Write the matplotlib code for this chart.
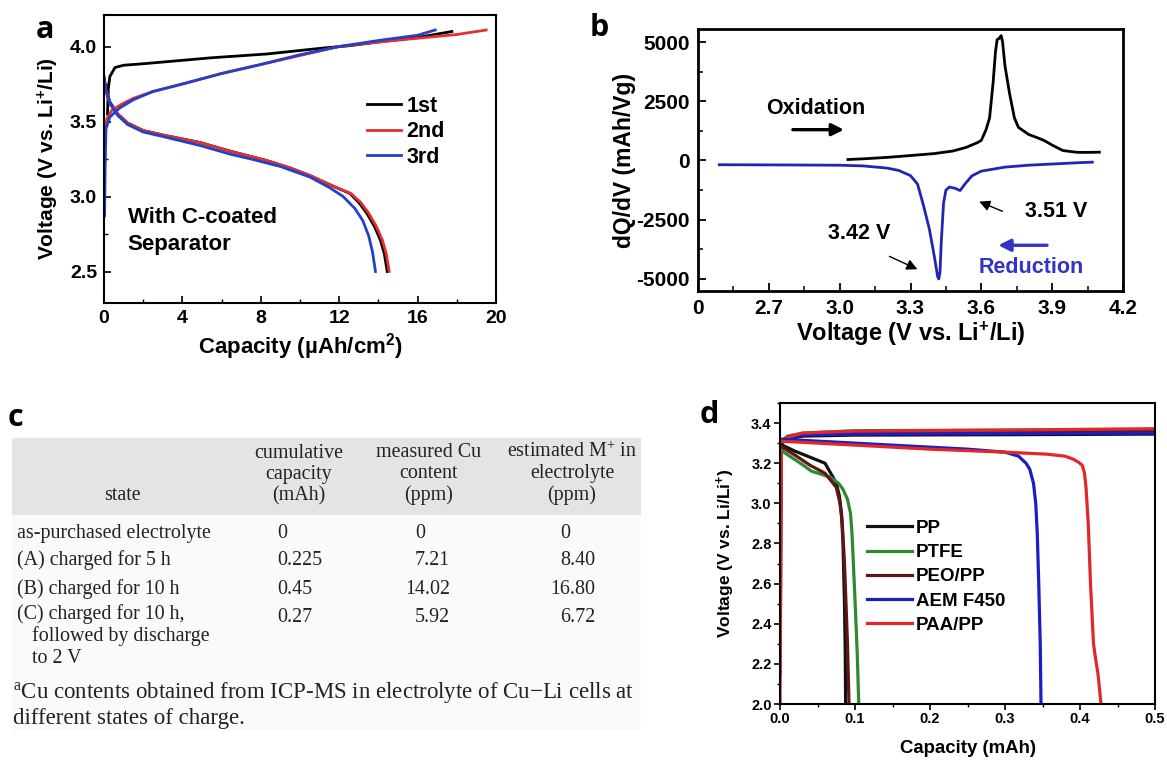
import matplotlib
matplotlib.use('Agg')
import matplotlib.pyplot as plt
from matplotlib.ticker import MultipleLocator
from matplotlib.patches import Rectangle

plt.rcParams['font.family'] = ['Liberation Sans', 'DejaVu Sans']
plt.rcParams['mathtext.default'] = 'regular'

# ---------------- Panel a data ----------------
a_chg1_x = [0.18, 0.22, 0.30, 0.56, 1.0, 2.0, 5.5, 8.3, 11.2, 12.5, 14.0, 16.0, 17.75]
a_chg1_v = [3.55, 3.72, 3.80, 3.86, 3.875, 3.885, 3.925, 3.95, 3.99, 4.005, 4.03, 4.06, 4.10]
a_chg2_x = [0.02, 0.05, 0.15, 0.4, 0.9, 1.5, 2.5, 4.0, 6.0, 8.0, 10.0, 12.0, 14.0, 16.0, 18.0, 19.5]
a_chg2_v = [3.30, 3.45, 3.52, 3.575, 3.615, 3.655, 3.70, 3.75, 3.82, 3.88, 3.94, 4.00, 4.03, 4.055, 4.08, 4.11]
a_chg3_x = [0.03, 0.06, 0.10, 0.3, 0.8, 1.5, 2.5, 4.0, 6.0, 8.0, 10.0, 12.0, 14.0, 16.0, 16.9]
a_chg3_v = [2.87, 3.20, 3.45, 3.53, 3.59, 3.645, 3.70, 3.75, 3.82, 3.88, 3.945, 4.00, 4.04, 4.075, 4.11]
a_dis1_x = [0.0, 0.1, 0.3, 0.7, 1.2, 2.0, 3.0, 4.9, 6.5, 8.3, 9.5, 10.5, 11.5, 12.55, 13.0, 13.4, 13.8, 14.1, 14.3, 14.45]
a_dis1_v = [3.80, 3.72, 3.63, 3.55, 3.49, 3.44, 3.41, 3.36, 3.30, 3.24, 3.19, 3.14, 3.08, 3.02, 2.96, 2.89, 2.80, 2.71, 2.62, 2.50]
a_dis2_x = [0.0, 0.1, 0.3, 0.7, 1.2, 2.0, 3.0, 4.9, 6.5, 8.3, 9.5, 10.5, 11.5, 12.6, 13.1, 13.5, 13.9, 14.2, 14.4, 14.55]
a_dis2_v = [3.78, 3.71, 3.62, 3.55, 3.49, 3.44, 3.41, 3.36, 3.30, 3.24, 3.19, 3.14, 3.08, 3.02, 2.96, 2.89, 2.80, 2.71, 2.62, 2.50]
a_dis3_x = [0.0, 0.1, 0.3, 0.7, 1.2, 2.0, 3.0, 4.9, 6.5, 7.5, 9.0, 10.5, 11.5, 12.2, 12.8, 13.2, 13.5, 13.7, 13.85]
a_dis3_v = [3.78, 3.70, 3.62, 3.54, 3.48, 3.43, 3.40, 3.34, 3.28, 3.25, 3.20, 3.13, 3.06, 3.00, 2.92, 2.84, 2.74, 2.63, 2.50]
a_labels = ["1st", "2nd", "3rd"]
a_xticks = [0, 4, 8, 12, 16, 20]
a_yticks = [2.5, 3.0, 3.5, 4.0]
a_yticklabels = ["2.5", "3.0", "3.5", "4.0"]

# ---------------- Panel b data ----------------
b_red_v = [2.49, 2.8, 3.0, 3.1, 3.2, 3.25, 3.3, 3.33, 3.355, 3.38, 3.40, 3.415, 3.42, 3.425, 3.43, 3.44,
           3.45, 3.465, 3.49, 3.51, 3.53, 3.56, 3.6, 3.7, 3.8, 3.9, 4.0, 4.07]
b_red_dq = [-180, -190, -200, -230, -320, -420, -640, -1000, -1900, -2900, -4000, -4900, -5000, -4700, -3500, -1800,
            -1250, -1120, -1180, -1270, -1000, -650, -450, -280, -200, -150, -100, -70]
b_ox_v = [3.035, 3.1, 3.2, 3.29, 3.4, 3.48, 3.535, 3.585, 3.6, 3.62, 3.635, 3.65, 3.66, 3.667, 3.675, 3.684,
          3.69, 3.70, 3.72, 3.74, 3.757, 3.8, 3.84, 3.866, 3.9, 3.945, 4.0, 4.03, 4.1]
b_ox_dq = [40, 70, 130, 200, 290, 400, 550, 760, 850, 1300, 1800, 3300, 4600, 5100, 5150, 5270,
           5000, 4000, 2800, 1800, 1400, 1100, 950, 843, 650, 420, 350, 340, 350]
b_xticks = [2.4, 2.7, 3.0, 3.3, 3.6, 3.9, 4.2]
b_xticklabels = ["0", "2.7", "3.0", "3.3", "3.6", "3.9", "4.2"]
b_yticks = [-5000, -2500, 0, 2500, 5000]
b_yticklabels = ["-5000", "-2500", "0", "2500", "5000"]

# ---------------- Panel c data ----------------
c_headers = ["state", "cumulative\ncapacity\n(mAh)", "measured Cu\ncontent\n(ppm)", "estimated M$^{+}$ in\nelectrolyte\n(ppm)"]
c_states = ["as-purchased electrolyte", "(A) charged for 5 h", "(B) charged for 10 h",
            "(C) charged for 10 h,\n   followed by discharge\n   to 2 V"]
c_capacity = ["0", "0.225", "0.45", "0.27"]
c_cu = ["0", "7.21", "14.02", "5.92"]
c_mplus = ["0", "8.40", "16.80", "6.72"]
c_footnote = "$^{a}$Cu contents obtained from ICP-MS in electrolyte of Cu\u2212Li cells at\ndifferent states of charge."

# ---------------- Panel d data ----------------
d_names = ["PP", "PTFE", "PEO/PP", "AEM F450", "PAA/PP"]
d_colors = ["#111111", "#2f8a2f", "#5e1616", "#1c1cc8", "#e02828"]
d_dis_x = [
    [0.003, 0.02, 0.04, 0.06, 0.0707, 0.075, 0.079, 0.082, 0.084, 0.086, 0.087, 0.0875],
    [0.003, 0.015, 0.031, 0.042, 0.055, 0.067, 0.078, 0.084, 0.09, 0.094, 0.096, 0.1, 0.103, 0.105],
    [0.003, 0.02, 0.04, 0.06, 0.075, 0.08, 0.083, 0.086, 0.088, 0.09, 0.091, 0.092],
    [0.0, 0.05, 0.1, 0.15, 0.2, 0.25, 0.30, 0.318, 0.328, 0.333, 0.338, 0.341, 0.343, 0.345, 0.347, 0.348],
    [0.0, 0.05, 0.1, 0.2, 0.3, 0.356, 0.38, 0.391, 0.398, 0.403, 0.406, 0.408, 0.411, 0.414, 0.418, 0.421, 0.424, 0.428],
]
d_dis_v = [
    [3.29, 3.26, 3.23, 3.20, 3.13, 3.10, 3.04, 2.95, 2.80, 2.50, 2.25, 2.0],
    [3.26, 3.23, 3.19, 3.16, 3.145, 3.13, 3.10, 3.07, 3.02, 2.95, 2.85, 2.52, 2.25, 2.0],
    [3.28, 3.24, 3.19, 3.15, 3.08, 3.0, 2.9, 2.7, 2.5, 2.3, 2.15, 2.0],
    [3.32, 3.31, 3.30, 3.29, 3.28, 3.27, 3.255, 3.235, 3.20, 3.17, 3.10, 3.0, 2.85, 2.6, 2.3, 2.0],
    [3.31, 3.30, 3.29, 3.27, 3.255, 3.245, 3.235, 3.22, 3.205, 3.19, 3.15, 3.08, 2.9, 2.6, 2.3, 2.22, 2.15, 2.0],
]
d_chg_x = [0.0, 0.002, 0.01, 0.03, 0.1, 0.3, 0.5]
d_chg_v = [
    [3.25, 3.30, 3.32, 3.335, 3.34, 3.342, 3.345],
    [3.22, 3.31, 3.335, 3.35, 3.362, 3.365, 3.365],
    [3.24, 3.30, 3.33, 3.345, 3.35, 3.355, 3.36],
    [2.15, 3.30, 3.325, 3.34, 3.345, 3.348, 3.35],
    [2.00, 3.30, 3.33, 3.35, 3.36, 3.365, 3.372],
]
d_xticks = [0.0, 0.1, 0.2, 0.3, 0.4, 0.5]
d_xticklabels = ["0.0", "0.1", "0.2", "0.3", "0.4", "0.5"]
d_yticks = [2.0, 2.2, 2.4, 2.6, 2.8, 3.0, 3.2, 3.4]
d_yticklabels = ["2.0", "2.2", "2.4", "2.6", "2.8", "3.0", "3.2", "3.4"]

# ================= Figure =================
W, H = 1167, 760
fig = plt.figure(figsize=(W / 100, H / 100), dpi=100)


def ax_px(l, t, r, b):
    return fig.add_axes([l / W, 1 - b / H, (r - l) / W, (b - t) / H])


def bold_ticks(ax):
    for t in ax.get_xticklabels() + ax.get_yticklabels():
        t.set_fontweight('bold')


# ---------- Panel a ----------
axa = ax_px(104, 15, 496, 303)
lw = 2.0
axa.plot(a_chg1_x, a_chg1_v, color='black', lw=lw)
axa.plot(a_dis1_x, a_dis1_v, color='black', lw=lw, label=a_labels[0])
axa.plot(a_chg2_x, a_chg2_v, color='#e43030', lw=lw)
axa.plot(a_dis2_x, a_dis2_v, color='#e43030', lw=lw, label=a_labels[1])
axa.plot(a_chg3_x, a_chg3_v, color='#2340c8', lw=lw)
axa.plot(a_dis3_x, a_dis3_v, color='#2340c8', lw=lw, label=a_labels[2])
axa.set_xlim(0, 20)
axa.set_ylim(2.29, 4.21)
axa.set_xticks(a_xticks)
axa.set_xticklabels([str(v) for v in a_xticks])
axa.set_yticks(a_yticks)
axa.set_yticklabels(a_yticklabels)
axa.xaxis.set_minor_locator(MultipleLocator(2))
axa.yaxis.set_minor_locator(MultipleLocator(0.25))
axa.tick_params(which='both', direction='in', top=False, right=False, labelsize=14, pad=5)
axa.tick_params(which='major', length=5, width=1.2)
axa.tick_params(which='minor', length=3, width=1.0)
bold_ticks(axa)
for s in axa.spines.values():
    s.set_linewidth(1.5)
axa.set_xlabel("Capacity (\u00b5Ah/cm$^{2}$)", fontsize=16, fontweight='bold', labelpad=3)
axa.set_ylabel("Voltage (V vs. Li$^{+}$/Li)", fontsize=15, fontweight='bold', labelpad=6)
axa.legend(loc='upper left', bbox_to_anchor=(0.65, 0.75), frameon=False,
           prop={'weight': 'bold', 'size': 15.5}, handlelength=1.55, handletextpad=0.25,
           labelspacing=0.21, borderaxespad=0)
axa.text(0.06, 0.335, "With C-coated\nSeparator", transform=axa.transAxes, fontsize=16,
         fontweight='bold', va='top', ha='left', linespacing=1.4)

# ---------- Panel b ----------
axb = ax_px(698, 29, 1123, 291)
axb.plot(b_ox_v, b_ox_dq, color='black', lw=2.0)
axb.plot(b_red_v, b_red_dq, color='#2424b4', lw=2.0)
axb.set_xlim(2.4, 4.2)
axb.set_ylim(-5510, 5550)
axb.set_xticks(b_xticks)
axb.set_xticklabels(b_xticklabels)
axb.set_yticks(b_yticks)
axb.set_yticklabels(b_yticklabels)
axb.xaxis.set_minor_locator(MultipleLocator(0.15))
axb.yaxis.set_minor_locator(MultipleLocator(1250))
axb.tick_params(which='both', direction='in', top=False, right=False, labelsize=15, pad=6)
axb.tick_params(which='major', length=6, width=1.3)
axb.tick_params(which='minor', length=3.5, width=1.1)
bold_ticks(axb)
for s in axb.spines.values():
    s.set_linewidth(2.0)
axb.set_xlabel("Voltage (V vs. Li$^{+}$/Li)", fontsize=17, fontweight='bold', labelpad=1)
axb.set_ylabel("dQ/dV (mAh/Vg)", fontsize=16.5, fontweight='bold', labelpad=0)
afs = 15.5
axb.text(2.90, 2190, "Oxidation", fontsize=afs, fontweight='bold', ha='center', va='center')
axb.annotate("", xy=(3.03, 1300), xytext=(2.79, 1300),
             arrowprops=dict(arrowstyle='-|>', color='black', lw=2.4, mutation_scale=18))
axb.text(3.915, -2150, "3.51 V", fontsize=afs, fontweight='bold', ha='center', va='center')
axb.annotate("", xy=(3.58, -1690), xytext=(3.70, -2190),
             arrowprops=dict(arrowstyle='-|>', color='black', lw=1.0, mutation_scale=16))
axb.text(3.084, -3080, "3.42 V", fontsize=afs, fontweight='bold', ha='center', va='center')
axb.annotate("", xy=(3.34, -4640), xytext=(3.20, -4000),
             arrowprops=dict(arrowstyle='-|>', color='black', lw=1.0, mutation_scale=16))
axb.text(3.81, -4510, "Reduction", fontsize=afs, fontweight='bold', ha='center', va='center', color='#3333c4')
axb.annotate("", xy=(3.66, -3580), xytext=(3.89, -3580),
             arrowprops=dict(arrowstyle='-|>', color='#3333c4', lw=2.4, mutation_scale=18))

# ---------- Panel c (table) ----------
axc = fig.add_axes([0, 0, 1, 1], zorder=-1)
axc.set_xlim(0, W)
axc.set_ylim(H, 0)
axc.axis('off')
axc.add_patch(Rectangle((12, 515), 629, 215, facecolor='#fafafa', edgecolor='none'))
axc.add_patch(Rectangle((12, 438), 629, 77, facecolor='#e4e4e4', edgecolor='none'))
serif = ['Liberation Serif', 'DejaVu Serif']
tc = '#222222'
hfs = 14.4
head_x = [122, 299, 429, 572]
for i, h in enumerate(c_headers):
    axc.text(head_x[i], 505, h, family=serif, fontsize=hfs, ha='center', va='bottom',
             linespacing=1.15, color=tc)
row_y = [531, 558, 587, 615]
bfs = 14.4
for i, s in enumerate(c_states):
    if i < 3:
        axc.text(17, row_y[i], s, family=serif, fontsize=bfs, ha='left', va='center_baseline',
                 linespacing=1.17, color=tc)
    else:
        axc.text(17, row_y[i] - 11, s, family=serif, fontsize=bfs, ha='left', va='top',
                 linespacing=1.17, color=tc)
for i in range(4):
    axc.text(277, row_y[i], c_capacity[i], family=serif, fontsize=bfs, ha='left', va='center_baseline', color=tc)
    if i == 0:
        axc.text(420, row_y[i], c_cu[i], family=serif, fontsize=bfs, ha='center', va='center_baseline', color=tc)
        axc.text(565, row_y[i], c_mplus[i], family=serif, fontsize=bfs, ha='center', va='center_baseline', color=tc)
    else:
        axc.text(450, row_y[i], c_cu[i], family=serif, fontsize=bfs, ha='right', va='center_baseline', color=tc)
        axc.text(595, row_y[i], c_mplus[i], family=serif, fontsize=bfs, ha='right', va='center_baseline', color=tc)
axc.text(13, 680, c_footnote, family=serif, fontsize=16.5, ha='left', va='top', linespacing=1.2,
         color=tc)

# ---------- Panel d ----------
axd = ax_px(780, 403, 1155, 704)
for i in range(5):
    axd.plot(d_chg_x, d_chg_v[i], color=d_colors[i], lw=2.3)
for i in range(5):
    axd.plot(d_dis_x[i], d_dis_v[i], color=d_colors[i], lw=2.3, label=d_names[i])
axd.set_xlim(0, 0.5)
axd.set_ylim(2.0, 3.5)
axd.set_xticks(d_xticks)
axd.set_xticklabels(d_xticklabels)
axd.set_yticks(d_yticks)
axd.set_yticklabels(d_yticklabels)
axd.xaxis.set_minor_locator(MultipleLocator(0.05))
axd.yaxis.set_minor_locator(MultipleLocator(0.1))
axd.tick_params(which='both', direction='out', top=False, right=False, labelsize=10.5, pad=2)
axd.tick_params(which='major', length=4, width=1.2)
axd.tick_params(which='minor', length=2.5, width=1.0)
bold_ticks(axd)
for s in axd.spines.values():
    s.set_linewidth(1.5)
axd.set_xlabel("Capacity (mAh)", fontsize=13.4, fontweight='bold', labelpad=10)
axd.set_ylabel("Voltage (V vs. Li/Li$^{+}$)", fontsize=12.5, fontweight='bold', labelpad=10)
axd.legend(loc='upper left', bbox_to_anchor=(0.212, 0.637), frameon=False,
           prop={'weight': 'bold', 'size': 13.5}, handlelength=2.4, handletextpad=0.2,
           labelspacing=0.38, borderaxespad=0)

# ---------- Panel labels ----------
lab_font = ['Open Sans', 'DejaVu Sans']
fig.text(36 / W, 1 - 30 / H, "a", family=lab_font, fontsize=22, fontweight='bold', ha='left', va='center')
fig.text(590 / W, 1 - 28 / H, "b", family=lab_font, fontsize=22, fontweight='bold', ha='left', va='center')
fig.text(8 / W, 1 - 418 / H, "c", family=lab_font, fontsize=22, fontweight='bold', ha='left', va='center')
fig.text(700 / W, 1 - 415 / H, "d", family=lab_font, fontsize=22, fontweight='bold', ha='left', va='center')

fig.savefig("out.png", dpi=100)
